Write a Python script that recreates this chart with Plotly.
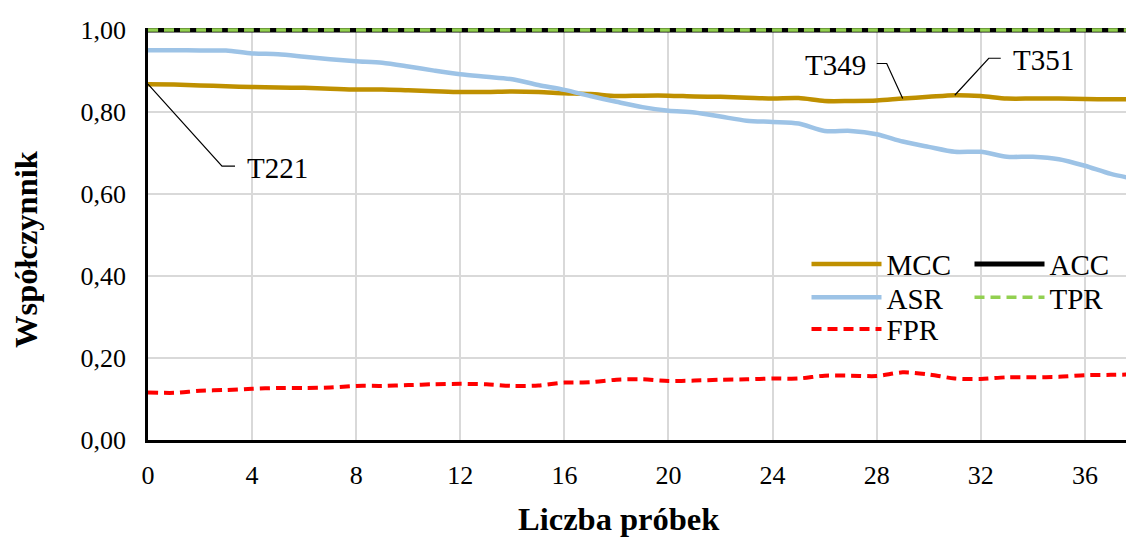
import plotly.graph_objects as go

# Number of samples (x axis)
samples = list(range(0, 39))

# Metric values per sample count
mcc = [0.868, 0.867, 0.865, 0.863, 0.861, 0.860, 0.859, 0.857, 0.855, 0.855,
       0.853, 0.851, 0.849, 0.849, 0.850, 0.849, 0.846, 0.844, 0.839, 0.840,
       0.840, 0.838, 0.837, 0.835, 0.833, 0.834, 0.827, 0.827, 0.828, 0.833,
       0.837, 0.841, 0.839, 0.833, 0.833, 0.833, 0.832, 0.831, 0.831]
acc = [1.0] * 39
asr = [0.951, 0.951, 0.950, 0.950, 0.943, 0.941, 0.935, 0.929, 0.924, 0.920,
       0.911, 0.901, 0.892, 0.886, 0.880, 0.866, 0.854, 0.839, 0.825, 0.812,
       0.803, 0.799, 0.789, 0.779, 0.776, 0.772, 0.754, 0.754, 0.746, 0.728,
       0.715, 0.703, 0.703, 0.691, 0.691, 0.685, 0.669, 0.649, 0.636]
tpr = [1.0] * 39
fpr = [0.116, 0.115, 0.120, 0.122, 0.125, 0.127, 0.127, 0.128, 0.132, 0.132,
       0.134, 0.136, 0.137, 0.136, 0.132, 0.133, 0.140, 0.141, 0.147, 0.148,
       0.144, 0.145, 0.147, 0.148, 0.150, 0.150, 0.157, 0.157, 0.156, 0.165,
       0.160, 0.150, 0.149, 0.153, 0.153, 0.154, 0.158, 0.159, 0.160]

x_ticks = [0, 4, 8, 12, 16, 20, 24, 28, 32, 36]
y_ticks = [0.0, 0.2, 0.4, 0.6, 0.8, 1.0]

# Callout labels: (text, sample index on the MCC curve)
callouts = [("T221", 0), ("T349", 29), ("T351", 31)]

SERIF = "Liberation Serif"

series = [
    ("MCC", mcc, dict(color="#BF9000", width=4.5), "legend"),
    ("ACC", acc, dict(color="#000000", width=5), "legend"),
    ("ASR", asr, dict(color="#9DC3E6", width=4.5), "legend2"),
    ("TPR", tpr, dict(color="#92D050", width=3.5, dash="10px,6px"), "legend2"),
    ("FPR", fpr, dict(color="#FF0000", width=4, dash="10px,6px"), "legend3"),
]

fig = go.Figure()
for name, vals, line, leg in series:
    fig.add_trace(go.Scatter(
        x=samples, y=vals, name=name, mode="lines",
        line=dict(shape="spline", smoothing=0.8, **line),
        legend=leg,
    ))

# Callout leader lines (pixel offsets from the labelled point) and texts
leaders = {
    "T221": ("M0,0 L74,-82 L87,-82", 97, -84, "left"),
    "T349": ("M0,0 L-16,35 L-26,35", -35, 34, "right"),
    "T351": ("M0,0 L34,37 L46,37", 56, 35, "left"),
}
for text, idx in callouts:
    path, dx, dy, anchor = leaders[text]
    fig.add_shape(
        type="path", path=path, xref="x", yref="y",
        xsizemode="pixel", ysizemode="pixel",
        xanchor=samples[idx], yanchor=mcc[idx],
        line=dict(color="black", width=1.2),
    )
    fig.add_annotation(
        x=samples[idx], y=mcc[idx], xref="x", yref="y",
        text=text, showarrow=False, xanchor=anchor, yanchor="middle",
        xshift=dx, yshift=dy,
        font=dict(family=SERIF, size=29, color="black"),
    )

# Axis titles
fig.add_annotation(
    x=(619 - 148) / 978, y=-0.191, xref="paper", yref="paper",
    text="<b>Liczba próbek</b>", showarrow=False,
    xanchor="center", yanchor="middle",
    font=dict(family=SERIF, size=32.5, color="black"),
)
fig.add_annotation(
    x=-(148 - 26) / 978, y=(440 - 249) / 412, xref="paper", yref="paper",
    text="<b>Współczynnik</b>", showarrow=False, textangle=-90,
    xanchor="center", yanchor="middle",
    font=dict(family=SERIF, size=32.5, color="black"),
)

legend_common = dict(
    orientation="h", bgcolor="rgba(0,0,0,0)", borderwidth=0,
    font=dict(family=SERIF, size=29, color="black"),
    itemwidth=70, entrywidth=78, entrywidthmode="pixels",
    xanchor="left", yanchor="middle", x=(812 - 5.5 - 148) / 978,
    itemclick=False, itemdoubleclick=False,
)

fig.update_layout(
    width=1126, height=537,
    margin=dict(l=148, r=0, t=28, b=97, autoexpand=False),
    paper_bgcolor="white", plot_bgcolor="white",
    separators=", ",
    showlegend=True,
    legend=dict(y=0.427, **legend_common),
    legend2=dict(y=0.346, **legend_common),
    legend3=dict(y=0.269, **legend_common),
    font=dict(family=SERIF, size=26, color="black"),
)

fig.update_xaxes(
    range=[0, 37.58], tickvals=x_ticks, ticks="",
    showgrid=True, gridcolor="#D9D9D9", gridwidth=1.5,
    showline=True, linecolor="black", linewidth=2.5,
    zeroline=False, ticklabelstandoff=10,
    tickfont=dict(family=SERIF, size=26, color="black"),
)
fig.update_yaxes(
    range=[0, 1.005], tickvals=y_ticks, tickformat=".2f", ticks="",
    showgrid=True, gridcolor="#D9D9D9", gridwidth=1.5,
    showline=True, linecolor="black", linewidth=2.5,
    zeroline=False, ticklabelstandoff=14,
    tickfont=dict(family=SERIF, size=26, color="black"),
)

fig.write_html("out.html")
